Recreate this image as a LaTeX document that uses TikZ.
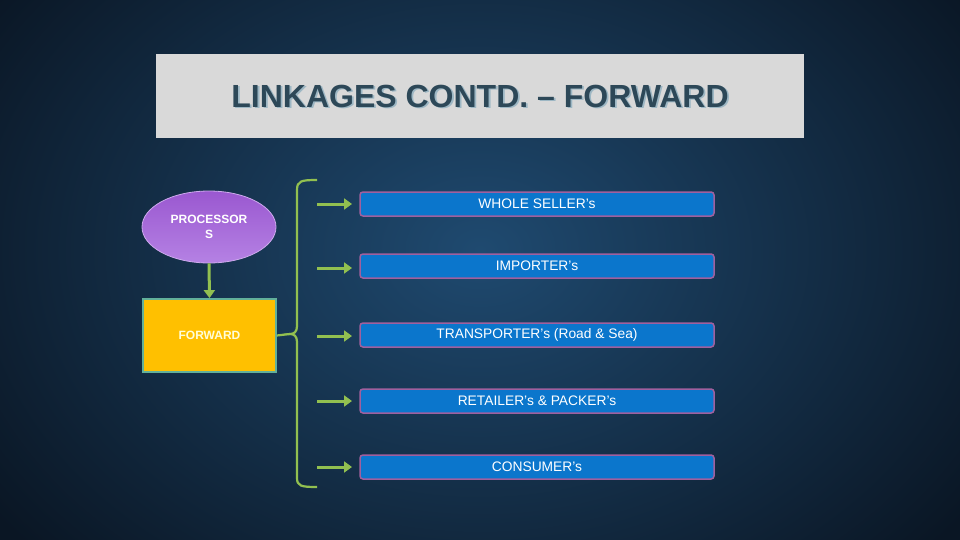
\documentclass[tikz,border=0pt]{standalone}
\usepackage{fontspec}
\setmainfont{Liberation Sans}
\usetikzlibrary{shapes.geometric,arrows.meta}
\definecolor{bgin}{HTML}{1F4A70}
\definecolor{bgout}{HTML}{0A1624}
\definecolor{titlebg}{HTML}{D9D9D9}
\definecolor{titletext}{HTML}{2D4858}
\definecolor{titleshadow}{HTML}{9DB7C4}
\definecolor{lgreen}{HTML}{92C050}
\definecolor{bluefill}{HTML}{0B76CC}
\definecolor{blueborder}{HTML}{A0609E}
\definecolor{purpA}{HTML}{9A58D0}
\definecolor{purpB}{HTML}{B886E6}
\definecolor{orangefill}{HTML}{FFC000}
\definecolor{orangeborder}{HTML}{62B09A}
\tikzset{
  bluebox/.style={draw=blueborder, line width=1.5pt, fill=bluefill, rounded corners=3pt,
    minimum width=354pt, minimum height=24pt, inner sep=0pt, text=white, font=\fontsize{13.8}{15}\selectfont},
  garrow/.style={draw=lgreen, line width=3pt, -{Triangle[length=8pt,width=11pt]}},
  gline/.style={draw=lgreen, line width=2.2pt},
}
\begin{document}
\begin{tikzpicture}[x=1pt,y=-1pt]
\useasboundingbox (0,0) rectangle (960,540);
\shade[inner color=bgin, outer color=bgout] (-120,-200) rectangle (1080,700);
% title
\node[fill=titlebg, minimum width=648pt, minimum height=84pt, inner sep=0pt] (title) at (480,96) {};
\node[text=titleshadow, font=\bfseries\fontsize{32}{34}\selectfont] (titlesh) at (481.8,97.8) {LINKAGES CONTD. – FORWARD};
\node[text=titletext, font=\bfseries\fontsize{32}{34}\selectfont] (titletxt) at (480,96) {LINKAGES CONTD. – FORWARD};
% processors
\node[ellipse, draw=purpB!70!white, line width=0.8pt, top color=purpA, bottom color=purpB!90!purpA,
  minimum width=134pt, minimum height=72pt, inner sep=0pt, text=white,
  font=\bfseries\fontsize{12}{15}\selectfont, align=center] (proc) at (209,227) {PROCESSOR\\S};
% forward box
\node[draw=orangeborder, line width=1.8pt, fill=orangefill, minimum width=133pt, minimum height=73pt,
  inner sep=0pt, text=yellow!15!white, font=\bfseries\fontsize{12}{14}\selectfont] (fwd) at (209.5,335.5) {FORWARD};
\draw[garrow] (proc.south) -- (fwd.north);
% brace
\coordinate (btop) at (317,180);
\coordinate (bbot) at (317,487);
\coordinate (bmid) at (290,334);
\draw[gline] (btop) .. controls (301,180) and (297,181) .. (297,190) -- (297,326)
  .. controls (297,332) and (294,334) .. (bmid)
  .. controls (294,334) and (297,336) .. (297,342) -- (297,478)
  .. controls (297,486) and (301,487) .. (bbot);
\draw[gline] (fwd.east) -- (bmid);
% blue boxes
\node[bluebox] (b1) at (537,204) {WHOLE SELLER's};
\node[bluebox] (b2) at (537,266) {IMPORTER's};
\node[bluebox] (b3) at (537,335) {TRANSPORTER's (Road \& Sea)};
\node[bluebox] (b4) at (537,401) {RETAILER's \& PACKER's};
\node[bluebox] (b5) at (537,467) {CONSUMER's};
% arrows
\foreach \b/\y in {b1/204,b2/268,b3/336,b4/401,b5/467}{
  \coordinate (s\b) at (317,\y);
  \coordinate (e\b) at (352,\y);
  \draw[garrow] (s\b) -- (e\b);
}
\end{tikzpicture}
\end{document}
